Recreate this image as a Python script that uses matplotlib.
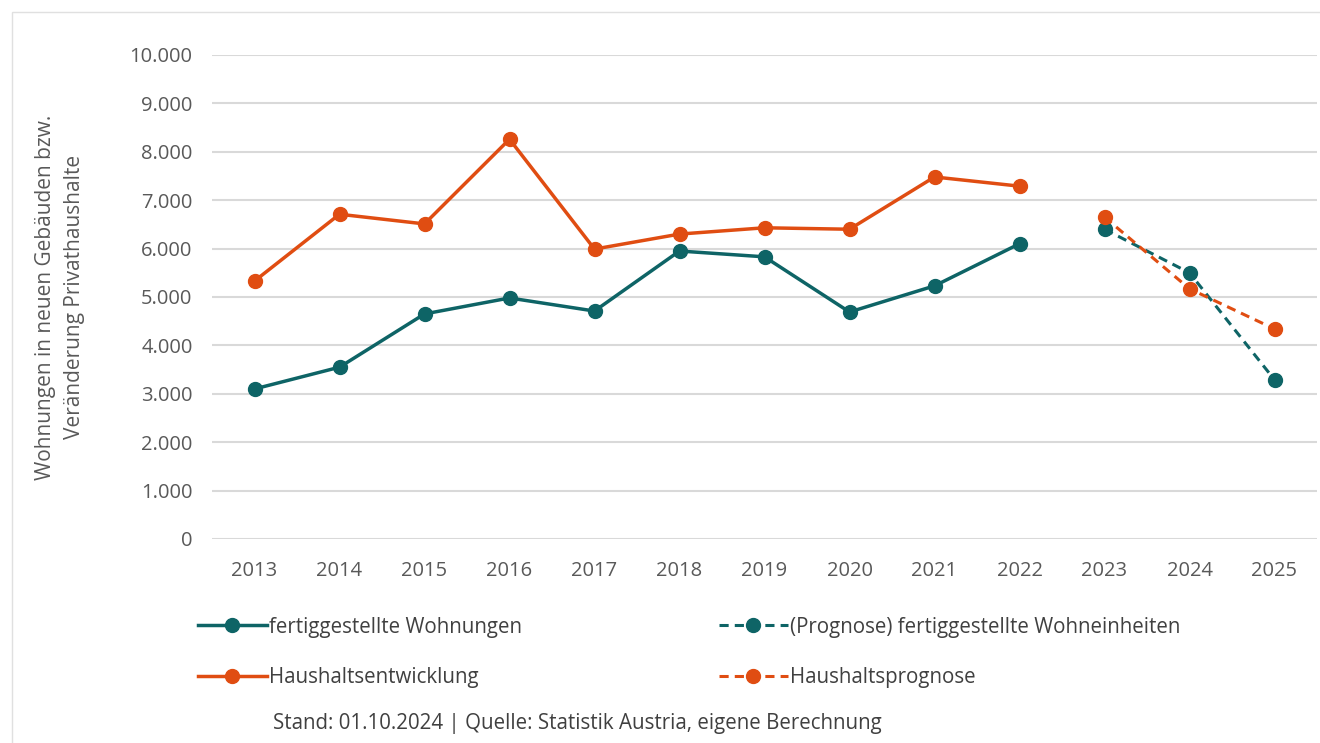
import matplotlib.pyplot as plt
from matplotlib.patches import Rectangle
from matplotlib.ticker import FuncFormatter

plt.rcParams['font.family'] = ['Open Sans', 'DejaVu Sans']

# Daten
jahre = ['2013', '2014', '2015', '2016', '2017', '2018', '2019', '2020',
         '2021', '2022', '2023', '2024', '2025']
wohnungen = [3100, 3550, 4650, 4980, 4710, 5950, 5830, 4690, 5230, 6100]
wohnungen_prognose = [6400, 5500, 3290]
haushalte = [5330, 6710, 6510, 8260, 5990, 6300, 6430, 6400, 7480, 7290]
haushalte_prognose = [6650, 5170, 4340]

teal = '#0E6466'
orange = '#E04D12'

fig = plt.figure(figsize=(13.2, 7.43), dpi=100)
ax = fig.add_axes([212 / 1320, 1 - 539 / 743, (1317 - 212) / 1320, (539 - 55) / 743])

x_ist = list(range(len(wohnungen)))
x_prog = list(range(len(wohnungen), len(jahre)))

l1, = ax.plot(x_ist, wohnungen, color=teal, lw=2.5, marker='o', ms=10,
              label='fertiggestellte Wohnungen', zorder=3)
l2, = ax.plot(x_ist, haushalte, color=orange, lw=2.5, marker='o', ms=10,
              label='Haushaltsentwicklung', zorder=3)
l3, = ax.plot(x_prog, wohnungen_prognose, color=teal, lw=2.2, ls=(0, (3, 2)),
              marker='o', ms=10, label='(Prognose) fertiggestellte Wohneinheiten', zorder=3)
l4, = ax.plot(x_prog, haushalte_prognose, color=orange, lw=2.2, ls=(0, (3, 2)),
              marker='o', ms=10, label='Haushaltsprognose', zorder=3)

ax.set_xlim(-0.5, len(jahre) - 0.5)
ax.set_ylim(0, 10000)
ax.set_yticks(range(0, 10001, 1000))
ax.yaxis.set_major_formatter(FuncFormatter(lambda v, p: f'{int(v):,}'.replace(',', '.')))
ax.set_xticks(range(len(jahre)))
ax.set_xticklabels(jahre)
ax.grid(axis='y', color='#D9D9D9', lw=1.5)
ax.set_axisbelow(True)
for s in ax.spines.values():
    s.set_visible(False)
ax.tick_params(length=0, labelsize=14.5, colors='#595959', pad=14)
ax.tick_params(axis='x', pad=16)

fig.text(60 / 1320, 1 - 297 / 743, 'Wohnungen in neuen Gebäuden bzw.\nVeränderung Privathaushalte',
         rotation=90, ha='center', va='center', fontsize=15, color='#595959', linespacing=1.45)

# Legende in zwei Spalten
leg_opts = dict(loc='upper left', frameon=False, fontsize=14.8, handlelength=3.4,
                handletextpad=0.1, labelspacing=1.45)
leg1 = fig.legend(handles=[l1, l2], bbox_to_anchor=(179 / 1320, 1 - 598 / 743), **leg_opts)
leg2 = fig.legend(handles=[l3, l4], bbox_to_anchor=(700 / 1320, 1 - 598 / 743), **leg_opts)
for leg in (leg1, leg2):
    for t in leg.get_texts():
        t.set_color('#404040')

fig.text(273 / 1320, 1 - 724 / 743, 'Stand: 01.10.2024 | Quelle: Statistik Austria, eigene Berechnung',
         ha='left', va='center', fontsize=14.8, color='#404040')

fig.patches.append(Rectangle((12 / 1320, -0.01), 1.1, 1 - 12 / 743 + 0.01,
                             transform=fig.transFigure, fill=False,
                             edgecolor='#E0E0E0', lw=1))

fig.savefig('out.png', dpi=100)
